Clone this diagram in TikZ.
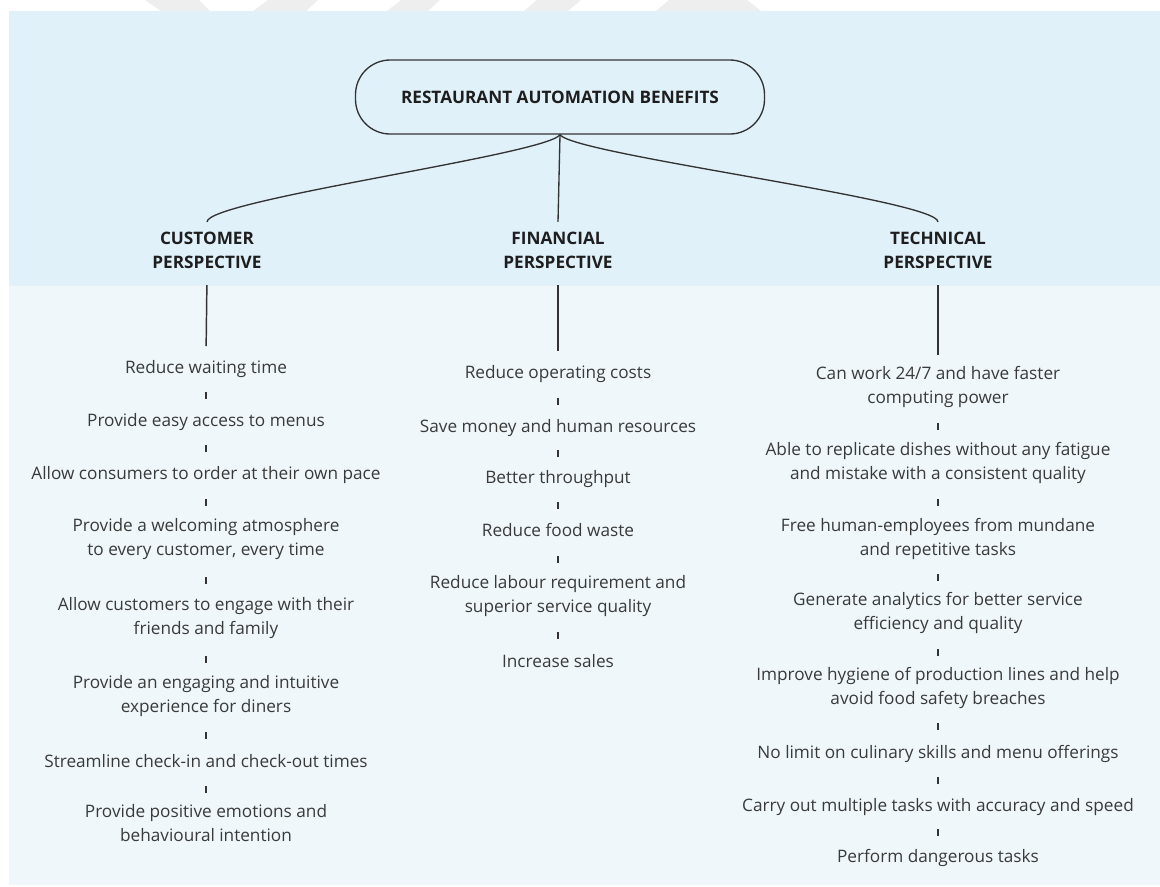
\documentclass[tikz,border=0pt]{standalone}
\usepackage{fontspec}
\setmainfont{Open Sans}
\usetikzlibrary{calc}
\definecolor{bandtop}{RGB}{224,241,250}
\definecolor{bandlow}{RGB}{239,247,251}
\definecolor{ink}{RGB}{51,51,51}
\definecolor{txt}{RGB}{58,58,58}
\definecolor{headtxt}{RGB}{30,30,30}
\definecolor{wm}{RGB}{238,238,238}
\newcommand\itemfont{\fontsize{12.9pt}{18pt}\selectfont}
\newcommand\headfont{\fontsize{12.9pt}{18pt}\selectfont\bfseries}
\newcommand\tickbetween[2]{\draw[tickmark] ($(#1.south)!0.5!(#2.north)+(0,-3.5)$) -- ($(#1.south)!0.5!(#2.north)+(0,3.5)$);}
\begin{document}
\begin{tikzpicture}[x=0.75pt,y=-0.75pt,
  item/.style={font=\itemfont, text=txt, align=center, inner sep=0pt,
    execute at begin node=\strut, execute at end node=\strut},
  head/.style={font=\headfont, text=headtxt, align=center, inner sep=0pt,
    execute at begin node=\strut, execute at end node=\strut},
  rootbox/.style={draw=ink, line width=1pt, rounded corners=26pt,
    minimum width=306.75pt, minimum height=55.5pt, font=\headfont, text=headtxt, inner sep=0pt},
  branch/.style={draw=ink, line width=1pt},
  stem/.style={draw=ink, line width=1.1pt, shorten <=6.75pt, shorten >=8pt},
  tickmark/.style={draw=ink, line width=1.1pt}
]
\useasboundingbox (0,0) rectangle (1160,886);
\fill[white] (0,0) rectangle (1160,886);
% faint watermark in the top strip
\fill[wm] (145,0) -- (199,0) -- (210,11) -- (161,11) -- cycle;
\fill[wm] (268,0) -- (318,0) -- (306,11) -- (253,11) -- cycle;
\fill[wm] (401,0) -- (440,0) -- (428,11) -- (387,11) -- cycle;
\fill[wm] (537,0) -- (581,0) -- (568,11) -- (524,11) -- cycle;
\fill[wm] (669,0) -- (747,0) -- (761,11) -- (656,11) -- cycle;
% bands
\fill[bandtop] (9,11) rectangle (1160,286);
\fill[bandlow] (9,286) rectangle (1160,885);

% root
\node[rootbox] (root) at (560,97) {RESTAURANT AUTOMATION BENEFITS};

% headings
\node[head] (cust) at (207,254) {CUSTOMER\\PERSPECTIVE};
\node[head] (fin) at (558,254) {FINANCIAL\\PERSPECTIVE};
\node[head] (tech) at (938,254) {TECHNICAL\\PERSPECTIVE};

% branches
\draw[branch] (root.south) .. controls +(-13,20) and +(0,-22) .. ($(cust.north)+(0,-10)$);
\draw[branch] (root.south) -- ($(fin.north)+(0,-10)$);
\draw[branch] (root.south) .. controls +(13,20) and +(0,-22) .. ($(tech.north)+(0,-10)$);

% customer column
\node[item] (c1) at (206,369) {Reduce waiting time};
\node[item] (c2) at (206,422) {Provide easy access to menus};
\node[item] (c3) at (206,475) {Allow consumers to order at their own pace};
\node[item] (c4) at (206,541) {Provide a welcoming atmosphere\\to every customer, every time};
\node[item] (c5) at (206,620) {Allow customers to engage with their\\friends and family};
\node[item] (c6) at (206,698) {Provide an engaging and intuitive\\experience for diners};
\node[item] (c7) at (206,763) {Streamline check-in and check-out times};
\node[item] (c8) at (206,827) {Provide positive emotions and\\behavioural intention};

% financial column
\node[item] (f1) at (558,374) {Reduce operating costs};
\node[item] (f2) at (558,428) {Save money and human resources};
\node[item] (f3) at (558,479) {Better throughput};
\node[item] (f4) at (558,532) {Reduce food waste};
\node[item] (f5) at (558,598) {Reduce labour requirement and\\superior service quality};
\node[item] (f6) at (558,663) {Increase sales};

% technical column
\node[item] (t1) at (938,388.5) {Can work 24/7 and have faster\\computing power};
\node[item] (t2) at (938,465) {Able to replicate dishes without any fatigue\\and mistake with a consistent quality};
\node[item] (t3) at (938,540.5) {Free human-employees from mundane\\and repetitive tasks};
\node[item] (t4) at (938,615) {Generate analytics for better service\\efficiency and quality};
\node[item] (t5) at (938,690) {Improve hygiene of production lines and help\\avoid food safety breaches};
\node[item] (t6) at (938,753.5) {No limit on culinary skills and menu offerings};
\node[item] (t7) at (938,807) {Carry out multiple tasks with accuracy and speed};
\node[item] (t8) at (938,858) {Perform dangerous tasks};

% stems
\draw[stem] (cust.south) -- (c1.north);
\draw[stem] (fin.south) -- (f1.north);
\draw[stem] (tech.south) -- (t1.north);

% ticks
\tickbetween{c1}{c2}
\tickbetween{c2}{c3}
\tickbetween{c3}{c4}
\tickbetween{c4}{c5}
\tickbetween{c5}{c6}
\tickbetween{c6}{c7}
\tickbetween{c7}{c8}
\tickbetween{f1}{f2}
\tickbetween{f2}{f3}
\tickbetween{f3}{f4}
\tickbetween{f4}{f5}
\tickbetween{f5}{f6}
\tickbetween{t1}{t2}
\tickbetween{t2}{t3}
\tickbetween{t3}{t4}
\tickbetween{t4}{t5}
\tickbetween{t5}{t6}
\tickbetween{t6}{t7}
\tickbetween{t7}{t8}
\end{tikzpicture}
\end{document}
